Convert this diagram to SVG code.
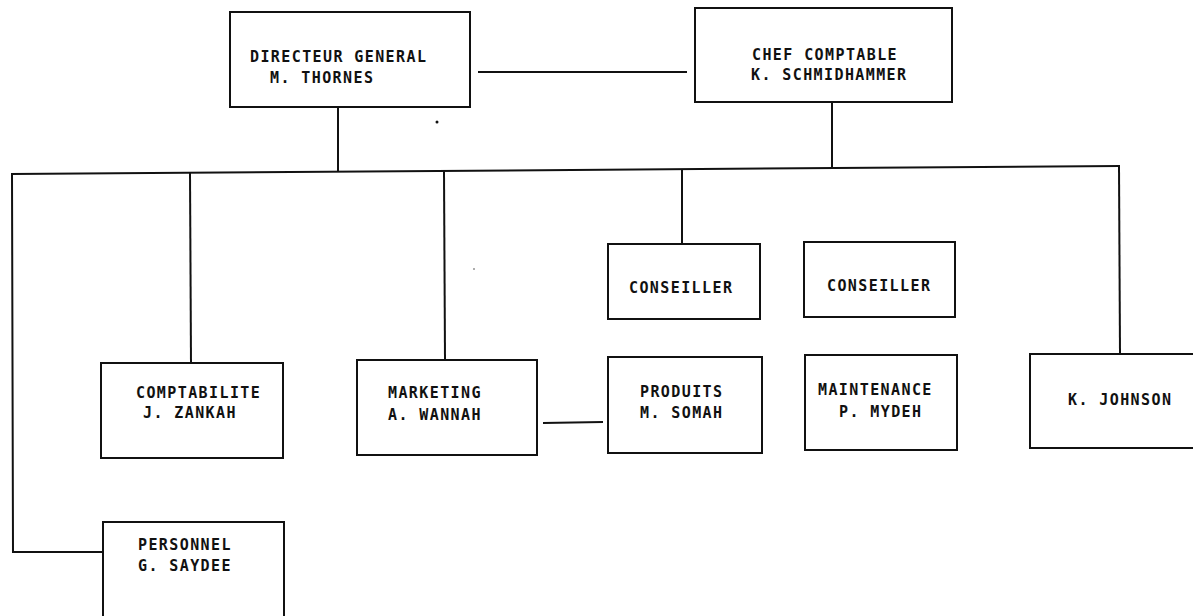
<svg xmlns="http://www.w3.org/2000/svg" width="1193" height="616" viewBox="0 0 1193 616">
  <style>
    .box { fill: none; stroke: #111; stroke-width: 2; stroke-linejoin: miter; }
    .wire { fill: none; stroke: #111; stroke-width: 2; }
    .lbl { font-family: "DejaVu Sans Mono", "Liberation Mono", monospace; font-weight: bold; font-size: 15px; letter-spacing: 1.4px; fill: #111; }
  </style>
  <rect width="1193" height="616" fill="#fff"/>

  <!-- connectors -->
  <g id="connectors">
    <line class="wire" x1="478" y1="72" x2="687" y2="72"/>
    <line class="wire" x1="11" y1="174" x2="1120" y2="166"/>
    <line class="wire" x1="338" y1="107" x2="338" y2="171.6"/>
    <line class="wire" x1="832" y1="102" x2="832" y2="168"/>
    <polyline class="wire" points="12,174 13,552 103,552"/>
    <line class="wire" x1="190" y1="172.7" x2="191" y2="363"/>
    <line class="wire" x1="444" y1="170.9" x2="445" y2="360"/>
    <line class="wire" x1="682" y1="169.1" x2="682" y2="244"/>
    <line class="wire" x1="1119" y1="166" x2="1120" y2="354"/>
    <line class="wire" x1="543" y1="423" x2="603" y2="422"/>
  </g>

  <g id="directeur">
    <rect class="box" x="230" y="12" width="240" height="95"/>
    <text class="lbl" x="250" y="62">DIRECTEUR GENERAL</text>
    <text class="lbl" x="270" y="83">M. THORNES</text>
  </g>

  <g id="chef-comptable">
    <rect class="box" x="695" y="8" width="257" height="94"/>
    <text class="lbl" x="752" y="60">CHEF COMPTABLE</text>
    <text class="lbl" x="751" y="80">K. SCHMIDHAMMER</text>
  </g>

  <g id="conseiller-1">
    <rect class="box" x="608" y="244" width="152" height="75"/>
    <text class="lbl" x="629" y="293">CONSEILLER</text>
  </g>

  <g id="conseiller-2">
    <rect class="box" x="804" y="242" width="151" height="75"/>
    <text class="lbl" x="827" y="291">CONSEILLER</text>
  </g>

  <g id="comptabilite">
    <rect class="box" x="101" y="363" width="182" height="95"/>
    <text class="lbl" x="136" y="398">COMPTABILITE</text>
    <text class="lbl" x="143" y="418">J. ZANKAH</text>
  </g>

  <g id="marketing">
    <rect class="box" x="357" y="360" width="180" height="95"/>
    <text class="lbl" x="388" y="398">MARKETING</text>
    <text class="lbl" x="388" y="420">A. WANNAH</text>
  </g>

  <g id="produits">
    <rect class="box" x="608" y="357" width="154" height="96"/>
    <text class="lbl" x="640" y="397">PRODUITS</text>
    <text class="lbl" x="640" y="418">M. SOMAH</text>
  </g>

  <g id="maintenance">
    <rect class="box" x="805" y="355" width="152" height="95"/>
    <text class="lbl" x="818" y="395">MAINTENANCE</text>
    <text class="lbl" x="839" y="417">P. MYDEH</text>
  </g>

  <g id="johnson">
    <path class="box" d="M1200,354 H1030 V448 H1200"/>
    <text class="lbl" x="1068" y="405">K. JOHNSON</text>
  </g>

  <g id="personnel">
    <path class="box" d="M103,625 V522 H284 V625"/>
    <text class="lbl" x="138" y="550">PERSONNEL</text>
    <text class="lbl" x="138" y="571">G. SAYDEE</text>
  </g>

  <!-- specks -->
  <circle cx="437" cy="122" r="1.5" fill="#111"/>
  <circle cx="474" cy="269" r="0.8" fill="#444"/>
</svg>
